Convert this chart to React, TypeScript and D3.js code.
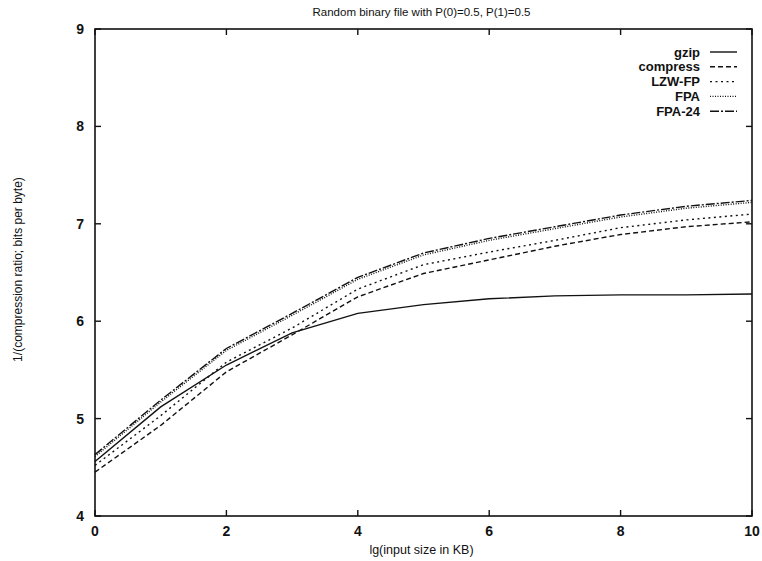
import React from "react";
import * as d3 from "d3";

const xValues = [0, 1, 2, 3, 4, 5, 6, 7, 8, 9, 10];
const gzip = [4.56, 5.12, 5.55, 5.88, 6.08, 6.17, 6.23, 6.26, 6.27, 6.27, 6.28];
const compress = [4.45, 4.93, 5.48, 5.86, 6.25, 6.49, 6.63, 6.77, 6.89, 6.97, 7.02];
const lzwfp = [4.52, 5.03, 5.58, 5.93, 6.33, 6.58, 6.71, 6.83, 6.96, 7.04, 7.1];
const fpa = [4.61, 5.17, 5.7, 6.06, 6.43, 6.68, 6.83, 6.95, 7.07, 7.16, 7.22];
const fpa24 = [4.63, 5.19, 5.72, 6.08, 6.45, 6.7, 6.85, 6.97, 7.09, 7.18, 7.24];
const seriesNames = ["gzip", "compress", "LZW-FP", "FPA", "FPA-24"];
const seriesData = [gzip, compress, lzwfp, fpa, fpa24];
const dashes = ["none", "5,3", "2,3.5", "1,1.5", "9,2,2,2"];
const xTicks = [0, 2, 4, 6, 8, 10];
const yTicks = [4, 5, 6, 7, 8, 9];
const title = "Random binary file with P(0)=0.5, P(1)=0.5";
const xTitle = "lg(input size in KB)";
const yTitle = "1/(compression ratio; bits per byte)";

export default function App() {
  const W = 762, H = 561;
  const L = 95, R = 752, T = 29, B = 516;
  const x = d3.scaleLinear().domain([0, 10]).range([L, R]);
  const y = d3.scaleLinear().domain([4, 9]).range([B, T]);
  const line = d3
    .line<number>()
    .x((_, i) => x(xValues[i]))
    .y((d) => y(d));
  const font = "'Liberation Sans', Arial, Helvetica, sans-serif";
  return (
    <svg
      width={W}
      height={H}
      style={{ position: "absolute", left: 0, top: 0, background: "#fff" }}
      fontFamily={font}
    >
      <rect x={0} y={0} width={W} height={H} fill="#fff" />
      <text x={(L + R) / 2 - 2} y={16} textAnchor="middle" fontSize={11.5} fill="#111">
        {title}
      </text>
      {seriesData.map((s, i) => (
        <path
          key={i}
          d={line(s) || ""}
          fill="none"
          stroke="#111"
          strokeWidth={1.4}
          strokeDasharray={dashes[i]}
        />
      ))}
      <rect x={L} y={T} width={R - L} height={B - T} fill="none" stroke="#111" strokeWidth={1.6} />
      {xTicks.map((t) => (
        <g key={"x" + t}>
          <line x1={x(t)} x2={x(t)} y1={B} y2={B - 6} stroke="#111" strokeWidth={1.4} />
          <line x1={x(t)} x2={x(t)} y1={T} y2={T + 6} stroke="#111" strokeWidth={1.4} />
          <text x={x(t)} y={B + 20} textAnchor="middle" fontSize={14} fontWeight="bold" fill="#111">
            {t}
          </text>
        </g>
      ))}
      {yTicks.map((t) => (
        <g key={"y" + t}>
          <line x1={L} x2={L + 6} y1={y(t)} y2={y(t)} stroke="#111" strokeWidth={1.4} />
          <line x1={R} x2={R - 6} y1={y(t)} y2={y(t)} stroke="#111" strokeWidth={1.4} />
          <text x={L - 11} y={y(t) + 5} textAnchor="end" fontSize={14} fontWeight="bold" fill="#111">
            {t}
          </text>
        </g>
      ))}
      <text x={(L + R) / 2 - 2} y={B + 38} textAnchor="middle" fontSize={12.5} fill="#111">
        {xTitle}
      </text>
      <text
        transform={`translate(${22},${(T + B) / 2 - 3}) rotate(-90)`}
        textAnchor="middle"
        fontSize={12}
        fill="#111"
      >
        {yTitle}
      </text>
      {seriesNames.map((n, i) => {
        const yy = 52 + i * 14.8;
        return (
          <g key={n}>
            <text x={700} y={yy + 4.5} textAnchor="end" fontSize={13} fontWeight="bold" fill="#111">
              {n}
            </text>
            <line
              x1={710}
              x2={737}
              y1={yy}
              y2={yy}
              stroke="#111"
              strokeWidth={1.4}
              strokeDasharray={dashes[i]}
            />
          </g>
        );
      })}
    </svg>
  );
}
